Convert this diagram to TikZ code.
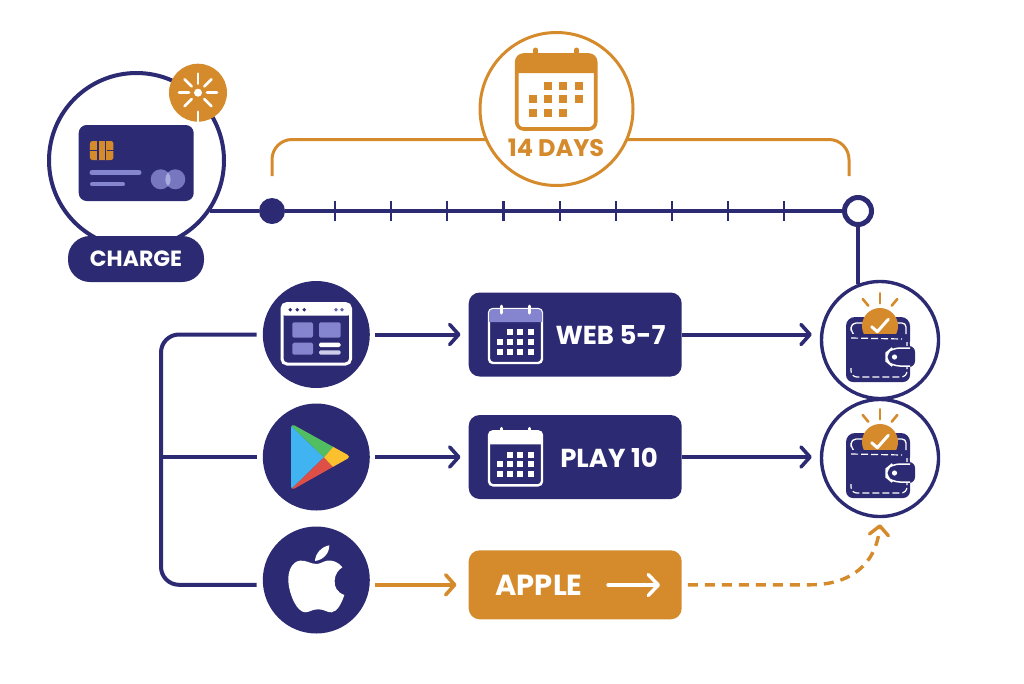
\documentclass[tikz,border=0pt]{standalone}
\usepackage{fontspec}
\setmainfont{Poppins}
\usetikzlibrary{calc}
\usetikzlibrary{arrows.meta}
\definecolor{navy}{HTML}{2C2A72}
\definecolor{amber}{HTML}{D58A2C}
\definecolor{lilac}{HTML}{8485CE}
\definecolor{playblue}{HTML}{3FB4F0}
\definecolor{playgreen}{HTML}{52BE62}
\definecolor{playred}{HTML}{DE4F48}
\definecolor{playyellow}{HTML}{FBC02D}
\tikzset{
    navy line/.style={draw=navy, line width=4pt},
    amber line/.style={draw=amber, line width=3pt},
    arrow line/.style={line width=4pt, -{Straight Barb[length=9pt,width=20pt,round,line width=3.6pt]}},
    icon disc/.style={circle, fill=navy, minimum size=107pt, inner sep=0},
    day box/.style={rectangle, rounded corners=11pt, minimum width=213pt, inner sep=0},
    wallet ring/.style={circle, draw=navy, fill=white, line width=3.4pt, minimum size=117pt, inner sep=0},
    box label/.style={text=white, font=\fontsize{26}{26}\selectfont\bfseries, inner sep=0},
    pics/box calendar/.style={code={
        \draw[white, line width=2.4pt, rounded corners=4pt] (0,0) rectangle (53,54);
        \fill[#1] (0,13) [rounded corners=4pt] -- (0,0) -- (53,0) [sharp corners] -- (53,13) -- cycle;
        \foreach \px in {12.7,40.3}
            \draw[white, line width=3pt, line cap=round] (\px,-3) -- (\px,4);
        \foreach \cx/\cy in {21.3/23.3,31.3/23.3,41.7/23.3,
                11.3/33,21.3/33,31.3/33,41.7/33,
                11.3/43,21.3/43,31.3/43,41.7/43}
            \fill[white] (\cx-3,\cy-3) rectangle (\cx+3,\cy+3);
    }},
    pics/wallet/.style={code={
        \foreach \rx/\ry/\sx/\sy in {-17.3/-41/-11.7/-34.3,0/-46.7/0/-36.7,17.3/-41/11.7/-34.3}
            \draw[amber, line width=2.6pt, line cap=round] (\rx,\ry) -- (\sx,\sy);
        \fill[navy, rounded corners=9pt] (-34,-23) rectangle (30,10);
        \draw[white, line width=1.3pt, rounded corners=5pt] (-15,-17) -- (-29,-17) -- (-29,-8) -- (-26,-5);
        \draw[white, line width=1.3pt, rounded corners=4pt] (16,-17) -- (26,-17) -- (26,-6);
        \fill[amber] (0,-14) circle [radius=18];
        \draw[white, line width=3pt, line cap=round, line join=round] (-8.3,-13.3) -- (-2.7,-8.3) -- (8.3,-20.7);
        \fill[navy, rounded corners=7pt] (-34,-6) -- (-34,42) -- (30,42) -- (30,-1) -- (24,-6) -- cycle;
        \draw[white, line width=1.2pt, dash pattern=on 7pt off 3pt] (-29,-2) -- (22,-1);
        \draw[white, line width=1.2pt, dash pattern=on 7pt off 3pt, rounded corners=6pt] (27,2) -- (27,37) -- (-29,37) -- (-29,28);
        \fill[navy, rounded corners=6pt] (5,6) rectangle (35,27);
        \draw[white, line width=1.5pt, rounded corners=8pt] (30,8) -- (12,8) -- (6,13) -- (6,21) -- (12,26) -- (30,26);
        \fill[white] (14.5,17) circle [radius=2.6];
    }}
}
\begin{document}
\begin{tikzpicture}[x=1pt, y=-1pt, line cap=butt]

\useasboundingbox (0,0) rectangle (1024,683);

\draw
    (136.5,160.5) node [circle, navy line, fill=white, minimum size=175pt, inner sep=0, name=card circle] {}
    (272,211) node [circle, fill=navy, minimum size=26pt, inner sep=0, name=start dot] {}
    (858,211) node [circle, navy line, line width=5pt, fill=white, minimum size=27pt, inner sep=0, name=end ring] {}
    (556.5,109) node [circle, minimum size=153pt, inner sep=0, name=days circle] {}
;

\coordinate (bracket left) at (272,176);
\coordinate (bracket right) at (849,176);
\coordinate (bracket top) at (556.5,139.5);

%% Timeline

\draw[navy line] (card circle.-35.4 |- start dot) -- (start dot);
\draw[navy line] (start dot) -- (end ring);
\foreach \tick in {335,391,447,503.5,560,616,672,728,784}
    \draw[navy, line width=2.4pt] (\tick,201) -- (\tick,221);
\draw[amber line, rounded corners=20pt] (bracket left) |- (bracket top) -| (bracket right);
\draw
    (556.5,109) node [circle, amber line, fill=white, minimum size=153pt, inner sep=0] {}
    (556,148) node [text=amber, font=\fontsize{24}{24}\selectfont\bfseries, inner sep=0, name=days label] {14 DAYS}
;

%% Calendar of the span
\begin{scope}[shift={(516.7,55)}]
    \draw[amber, line width=3.6pt, rounded corners=7pt] (0,0) rectangle (79,74);
    \fill[amber] (0,18) [rounded corners=7pt] -- (0,0) -- (79,0) [sharp corners] -- (79,18) -- cycle;
    \foreach \px in {19,60}
        \draw[amber, line width=5pt, line cap=round] (\px,-5) -- (\px,3);
    \foreach \cx/\cy in {31.3/31,46.6/31,62.3/31,
            16/44.3,31.3/44.3,46.6/44.3,62.3/44.3,
            16/58,31.3/58,46.6/58}
        \fill[amber] (\cx-4,\cy-4) rectangle (\cx+4,\cy+4);
\end{scope}

%% Card

\draw
    (136.2,163) node [rectangle, fill=navy, rounded corners=8pt, minimum width=115pt, minimum height=76pt, inner sep=0, name=card] {}
    (136,259) node [rectangle, fill=navy, rounded corners=22pt, minimum width=136pt, minimum height=46pt, inner sep=0, name=charge pill] {}
    (136,259) node [box label, font=\fontsize{22}{22}\selectfont\bfseries, name=charge label] {CHARGE}
    (198,92.7) node [circle, fill=amber, minimum size=58pt, inner sep=0, name=spark badge] {}
    (101.7,150.5) node [rectangle, fill=amber, rounded corners=2.5pt, minimum width=23.5pt, minimum height=19pt, inner sep=0, name=chip] {}
;
\draw[navy, line width=1.1pt] (chip.west) -- ([xshift=7pt]chip.west) (chip.east) -- ([xshift=-7pt]chip.east);
\draw[navy, line width=1.1pt, rounded corners=1pt] (98,141) -- (98,146) -- (98,155) -- (98,160);
\draw[navy, line width=1.1pt, rounded corners=1pt] (105.5,141) -- (105.5,160);
\draw[lilac, line width=5pt, line cap=round] (92,172.7) -- (139,172.7);
\draw[lilac, line width=4pt, line cap=round] (92,184.3) -- (123,184.3);
\fill[lilac!85!navy] (160.7,179.3) circle [radius=10];
\fill[lilac!85!navy] (175.3,179.3) circle [radius=10];
\begin{scope}
    \clip (160.7,179.3) circle [radius=10];
    \fill[lilac!70!white] (175.3,179.3) circle [radius=10];
\end{scope}
\foreach \ang in {0,45,135,180,225,270,315}
    \draw[white, line width=2.6pt, line cap=round] ($(spark badge)+(\ang:9)$) -- ($(spark badge)+(\ang:19)$);
\draw[white, line width=2.6pt, line cap=round] (spark badge) -- ($(spark badge)+(0,19)$);
\fill[white] (spark badge) circle [radius=4];

%% Sources

\draw
    (316.3,334.5) node [icon disc, name=web icon] {}
    (316.3,457) node [icon disc, name=play icon] {}
    (316.3,580) node [icon disc, name=apple icon] {}

    (575.2,334.5) node [day box, fill=navy, minimum height=84pt, name=web box] {}
    (575.2,457) node [day box, fill=navy, minimum height=84pt, name=play box] {}
    (575.2,584.8) node [day box, fill=amber, minimum height=69pt, name=apple box] {}

    (880,340) node [wallet ring, name=web wallet] {}
    (880,458) node [wallet ring, name=play wallet] {}

    (610.5,335) node [box label, name=web label] {WEB 5-7}
    (609,457.5) node [box label, name=play label] {PLAY 10}
    (539,585) node [box label, font=\fontsize{29}{29}\selectfont\bfseries, name=apple label] {APPLE}
;

\coordinate (bus top) at (161,334.5);
\coordinate (bus bottom) at (161,584.8);
\coordinate (dash bend) at (810,584.8);
\coordinate (apple arrow start) at (608,585);
\coordinate (apple arrow end) at (660,585);

\draw[navy line, rounded corners=18pt] ([xshift=-6pt]web icon.west) -- (bus top) -- (bus bottom) -- ([xshift=-6pt]apple icon.west |- apple box);
\draw[navy line] ([xshift=-6pt]play icon.west) -- (play icon.west -| bus top);

\draw[navy, arrow line, shorten <=5pt, shorten >=8pt] (web icon.east) -- (web box.west);
\draw[navy, arrow line, shorten <=5pt, shorten >=8pt] (play icon.east) -- (play box.west);
\draw[amber, arrow line, shorten <=5pt, shorten >=12pt] (apple icon.east |- apple box) -- (apple box.west);

\draw[navy, arrow line, shorten >=8pt] (web box.east) -- (web box -| web wallet.west);
\draw[navy, arrow line, shorten >=8pt] (play box.east) -- (play box -| play wallet.west);
\draw[navy line] (end ring) -- (end ring |- web wallet.112);

\draw[amber, line width=3.4pt, dash pattern=on 10pt off 7pt, shorten <=6pt, -{Straight Barb[length=9pt,width=19pt,round,line width=3.4pt]}]
    (apple box.east) -- (dash bend) .. controls (850,584.8) and (876,565) .. ([yshift=-6pt]play wallet.south);
\draw[white, line width=3.5pt, line cap=round, -{Straight Barb[length=10pt,width=21pt,round,line width=3.5pt]}] (apple arrow start) -- (apple arrow end);

\pic at (489,309) {box calendar=lilac};
\pic at (489,431.3) {box calendar=white};
\pic at (web wallet) {wallet};
\pic at ([yshift=-116pt]web wallet) {wallet};

%% Web icon
\draw[white, line width=3pt, rounded corners=5pt] (282,303.5) rectangle (350.5,364);
\fill[white, rounded corners=3pt] (282,303.5) rectangle (350.5,315.7);
\foreach \dx in {290.3,297.3,304.3}
    \fill[navy] (\dx,309.7) circle [radius=1.9];
\foreach \dx in {336,342}
    \fill[lilac!60!navy] (\dx,309.7) circle [radius=1.9];
\fill[lilac, rounded corners=1.5pt] (292.3,322.3) rectangle (313,337.7);
\fill[lilac, rounded corners=1.5pt] (319,322.3) rectangle (340.7,337.7);
\fill[lilac, rounded corners=1.5pt] (292.3,342.7) rectangle (313,354.7);
\fill[white, rounded corners=1.5pt] (319,342.7) rectangle (340.7,347);
\fill[lilac!40!white, rounded corners=1.5pt] (319,350.3) rectangle (340.7,354.7);

%% Play icon
\begin{scope}
    \clip[rounded corners=4pt] (291,423.5) -- (351,456.7) -- (291,490.5) -- cycle;
    \fill[playblue] (285,420) -- (324,457.3) -- (285,495) -- cycle;
    \fill[playgreen] (285,420) -- (333.5,446.5) -- (324,457.3) -- cycle;
    \fill[playred] (285,495) -- (333.5,467.5) -- (324,457.3) -- cycle;
    \fill[playyellow] (333.5,446.5) -- (355,456.7) -- (333.5,467.5) -- (324,457.3) -- cycle;
\end{scope}

%% Apple icon
\begin{scope}[shift={(250,270)}, x=0.3333pt, y=-0.3333pt]
    \fill[white] (200,882) .. controls (180,882) and (170,870) .. (150,872)
        .. controls (125,875) and (113,905) .. (115,935)
        .. controls (118,975) and (140,1025) .. (165,1027)
        .. controls (180,1027) and (185,1018) .. (205,1018)
        .. controls (225,1018) and (230,1028) .. (245,1027)
        .. controls (262,1025) and (275,1000) .. (283,975)
        .. controls (262,968) and (252,950) .. (254,932)
        .. controls (255,912) and (265,900) .. (277,892)
        .. controls (265,875) and (245,870) .. (232,872)
        .. controls (220,874) and (210,882) .. (200,882) -- cycle;
    \fill[white] (195,873) .. controls (196,850) and (215,830) .. (238,826)
        .. controls (238,850) and (220,870) .. (195,873) -- cycle;
\end{scope}

\end{tikzpicture}
\end{document}
